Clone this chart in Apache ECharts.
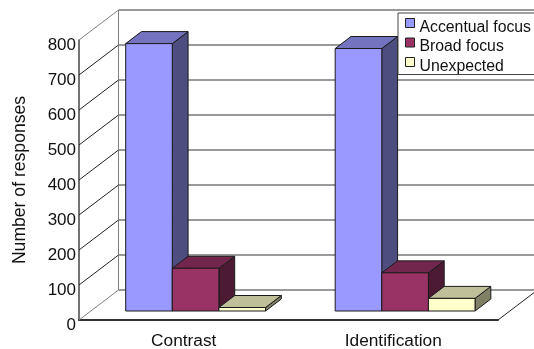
<!DOCTYPE html>
<html>
<head>
<meta charset="utf-8">
<style>html,body{margin:0;padding:0;background:#fff}#chart{width:534px;height:349px}</style>
<script src="https://cdn.jsdelivr.net/npm/echarts@6/dist/echarts.min.js"></script>
</head>
<body>
<div id="chart"></div>
<script>
const categories = ['Contrast', 'Identification'];
const accentualFocus = [764, 750];
const broadFocus = [122, 109];
const unexpected = [10, 36];
const yTicks = [0, 100, 200, 300, 400, 500, 600, 700, 800];

// Oblique projection of the chart box: how far the back wall sits from the front plane.
const DEPTH_X = 39.5;
const DEPTH_Y = -30;
const BAR_SHARE = 0.2225;   // bar width as a share of one category band
const BAR_NEAR = 0.3;       // depth fraction of a bar's front face
const BAR_FAR = 0.7;        // depth fraction of a bar's back face

function pt(p, f) { return [p[0] + DEPTH_X * f, p[1] + DEPTH_Y * f]; }

function face(points, fill) {
  return {
    type: 'polygon',
    shape: { points },
    style: { fill, stroke: '#1a1a1a', lineWidth: 1 }
  };
}

// One 3D column: front, top and side faces, placed by the axes' own scales.
function barRenderer(slot, top, side) {
  return function (params, api) {
    const band = api.size([1, 0])[0];
    const w = band * BAR_SHARE;
    const c = api.coord([api.value(0), api.value(1)]);
    const base = api.coord([api.value(0), 0]);
    const x0 = c[0] + (slot - 1.5) * w;
    const x1 = x0 + w;
    const tl = [x0, c[1]], tr = [x1, c[1]], bl = [x0, base[1]], br = [x1, base[1]];
    const n = (p) => pt(p, BAR_NEAR), f = (p) => pt(p, BAR_FAR);
    return {
      type: 'group',
      children: [
        face([n(tr), f(tr), f(br), n(br)], side),
        face([n(tl), f(tl), f(tr), n(tr)], top),
        face([n(tl), n(tr), n(br), n(bl)], api.visual('color'))
      ]
    };
  };
}

// Back wall gridlines, side wall diagonals and the floor outline.
function frameRenderer(params, api) {
  const v = api.value(0);
  const cs = params.coordSys;
  const y = api.coord([0, v])[1];
  const left = cs.x;
  const right = cs.x + cs.width;
  const edge = v === yTicks[0] || v === yTicks[yTicks.length - 1];
  const children = [
    { type: 'line', shape: { x1: left, y1: y, x2: left + DEPTH_X, y2: y + DEPTH_Y },
      style: { stroke: edge ? '#808080' : '#222', lineWidth: 1 } },
    { type: 'line', shape: { x1: left + DEPTH_X, y1: y + DEPTH_Y, x2: right + DEPTH_X, y2: y + DEPTH_Y },
      style: { stroke: '#777', lineWidth: 1.5 } }
  ];
  if (v === yTicks[0]) {
    const topY = api.coord([0, yTicks[yTicks.length - 1]])[1];
    children.push(
      { type: 'line', shape: { x1: left + DEPTH_X, y1: y + DEPTH_Y, x2: left + DEPTH_X, y2: topY + DEPTH_Y },
        style: { stroke: '#808080', lineWidth: 1 } },
      { type: 'line', shape: { x1: right, y1: y, x2: right + DEPTH_X, y2: y + DEPTH_Y },
        style: { stroke: '#222', lineWidth: 1 } }
    );
  }
  return { type: 'group', children };
}

function barSeries(name, values, slot, color, top, side) {
  return {
    name,
    type: 'custom',
    coordinateSystem: 'cartesian2d',
    itemStyle: { color },
    encode: { x: 0, y: 1 },
    data: values.map((v, i) => [i, v]),
    renderItem: barRenderer(slot, top, side),
    z: 3 + slot
  };
}

const chart = echarts.init(document.getElementById('chart'), null, { renderer: 'canvas' });
const font = 'Liberation Sans, Arial, sans-serif';
chart.setOption({
  animation: false,
  backgroundColor: '#ffffff',
  textStyle: { fontFamily: font },
  grid: { left: 79, top: 40, width: 419, height: 280, containLabel: false, outerBoundsMode: 'none' },
  legend: {
    left: 398,
    top: 13,
    orient: 'vertical',
    align: 'left',
    width: 140,
    padding: [5, 30, 0, 7],
    itemWidth: 9,
    itemHeight: 9,
    itemGap: 2,
    icon: 'rect',
    backgroundColor: '#ffffff',
    borderColor: '#444',
    borderWidth: 1,
    data: ['Accentual focus', 'Broad focus', 'Unexpected'],
    itemStyle: { borderColor: '#222', borderWidth: 1 },
    formatter: '{t|{name}}',
    textStyle: {
      fontFamily: font, fontSize: 15.8, color: '#111',
      rich: { t: { fontFamily: font, fontSize: 15.8, color: '#111', lineHeight: 25, verticalAlign: 'bottom' } }
    },
    selectedMode: false
  },
  xAxis: {
    type: 'category',
    data: categories,
    axisTick: { show: false },
    axisLine: { show: true, lineStyle: { color: '#333', width: 2 } },
    axisLabel: { color: '#111', fontSize: 17.3, fontFamily: font, margin: 13 },
    splitLine: { show: false }
  },
  yAxis: {
    type: 'value',
    min: 0,
    max: 800,
    interval: 100,
    name: 'Number of responses',
    nameLocation: 'middle',
    nameGap: 50,
    nameRotate: 90,
    nameTextStyle: { color: '#111', fontSize: 17.6, fontFamily: font },
    axisLine: { show: true, lineStyle: { color: '#444', width: 1.5 } },
    axisTick: { show: false },
    axisLabel: {
      color: '#111', fontSize: 17, fontFamily: font, margin: 3,
      formatter: '{v|{value}}',
      rich: { v: { fontFamily: font, fontSize: 17, color: '#111', lineHeight: 27, verticalAlign: 'bottom' } }
    },
    splitLine: { show: false }
  },
  series: [
    {
      name: 'frame',
      type: 'custom',
      coordinateSystem: 'cartesian2d',
      silent: true,
      encode: { y: 0 },
      data: yTicks.map((v) => [v]),
      renderItem: frameRenderer,
      z: 1
    },
    barSeries('Accentual focus', accentualFocus, 0, '#9999ff', '#7373bf', '#4d4d80'),
    barSeries('Broad focus', broadFocus, 1, '#993366', '#73264d', '#4d1a33'),
    barSeries('Unexpected', unexpected, 2, '#ffffcc', '#bfbf99', '#808066')
  ]
});
</script>
</body>
</html>
